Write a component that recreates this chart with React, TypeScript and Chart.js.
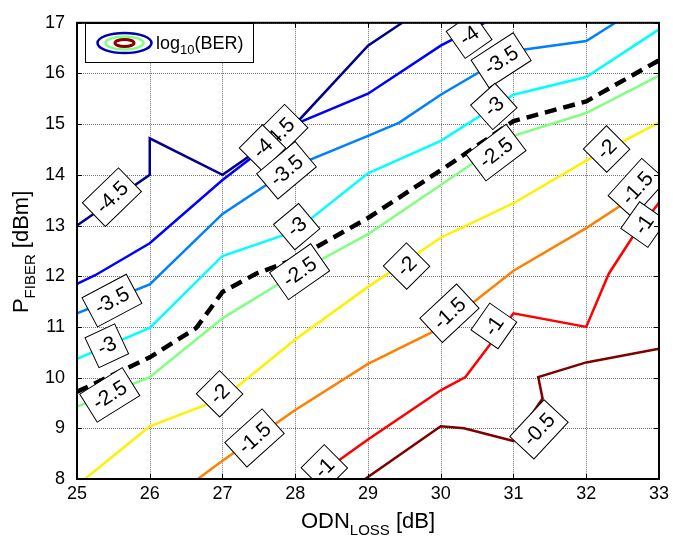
import React, { useEffect, useRef } from 'react';
import { Chart, registerables } from 'chart.js';

Chart.register(...registerables);

type P = [number, number];

// axis ticks
const X_TICKS = [25, 26, 27, 28, 29, 30, 31, 32, 33];
const Y_TICKS = [8, 9, 10, 11, 12, 13, 14, 15, 16, 17];

// contour lines of log10(BER)
const LEVEL_M45: P[] = [[25, 13.0], [26, 14.0], [26, 14.72], [27, 14.0], [28, 15.0], [29, 16.55], [29.47, 17.0]];
const LEVEL_M40: P[] = [[25, 11.85], [25.25, 12.02], [26, 12.65], [27, 13.9], [28, 15.0], [29, 15.6], [30, 16.55], [30.6, 17.0]];
const LEVEL_M35: P[] = [[25, 11.27], [26, 11.84], [27, 13.23], [28, 14.18], [29, 14.77], [29.43, 15.03], [30, 15.58], [31.03, 16.45], [32, 16.64], [32.4, 17.0]];
const LEVEL_M30: P[] = [[25, 10.37], [26, 10.98], [27, 12.4], [28, 12.89], [29, 14.03], [30, 14.67], [31, 15.58], [32, 15.93], [33, 16.87]];
const LEVEL_M25: P[] = [[25, 9.43], [26, 10.01], [27, 11.17], [28, 12.05], [29, 12.83], [30, 13.8], [31, 14.77], [32, 15.22], [33, 15.96]];
const THRESHOLD: P[] = [[25, 9.72], [26, 10.4], [26.64, 10.98], [27, 11.69], [27.46, 12.05], [28, 12.34], [29, 13.15], [30, 14.09], [31, 15.06], [32, 15.45], [33, 16.26]];
const LEVEL_M20: P[] = [[25.11, 8.0], [26, 9.04], [27, 9.59], [27.4, 10.05], [28, 10.75], [29, 11.79], [30, 12.76], [31, 13.44], [32, 14.28], [33, 15.03]];
const LEVEL_M15: P[] = [[26.66, 8.0], [27, 8.36], [28, 9.36], [29, 10.27], [30, 10.98], [31, 12.11], [32, 12.95], [32.49, 13.41], [33, 14.05]];
const LEVEL_M10: P[] = [[28.24, 8.0], [29, 8.78], [30, 9.75], [30.34, 10.01], [31, 11.27], [32, 11.0], [32.31, 12.05], [32.63, 12.76], [33, 13.45]];
const LEVEL_M05: P[] = [[28.96, 8.0], [30, 9.04], [30.32, 9.0], [31, 8.75], [31.4, 9.59], [31.34, 10.01], [32, 10.3], [33, 10.57]];

// inline labels: text, x, y, rotation (deg)
const LABEL_TEXT = ['-4.5', '-4.5', '-4', '-3.5', '-3', '-2.5', '-3.5', '-3', '-2.5', '-2', '-1.5', '-1', '-2', '-1.5', '-1', '-0.5', '-4', '-3.5', '-3', '-2.5', '-2', '-1.5', '-1'];
const LABEL_X = [25.48, 27.77, 27.55, 27.88, 28.02, 28.06, 25.48, 25.41, 25.45, 26.96, 27.44, 28.4, 29.53, 30.12, 30.73, 31.35, 30.39, 30.83, 30.73, 30.76, 32.28, 32.7, 32.79];
const LABEL_Y = [13.56, 14.81, 14.53, 14.09, 12.98, 12.09, 11.52, 10.63, 9.66, 9.68, 8.81, 8.22, 12.2, 11.27, 11.02, 8.98, 16.75, 16.26, 15.35, 14.44, 14.51, 13.74, 13.02];
const LABEL_ANGLE = [44, 45, 45, 40, 40, 35, 28, 25, 32, 45, 42, 45, 45, 43, 55, 47, 35, 33, 42, 37, 45, 48, 55];

const FONT = '"Liberation Sans", Arial, sans-serif';

function drawRuns(ctx: CanvasRenderingContext2D, runs: { t: string; sub?: boolean }[], x0: number, y0: number, size: number, subSize: number, subShift: number, center: boolean) {
  let total = 0;
  const widths = runs.map((r) => {
    ctx.font = `${r.sub ? subSize : size}px ${FONT}`;
    const w = ctx.measureText(r.t).width;
    total += w;
    return w;
  });
  let x = center ? x0 - total / 2 : x0;
  ctx.textAlign = 'left';
  ctx.textBaseline = 'alphabetic';
  ctx.fillStyle = '#000';
  runs.forEach((r, i) => {
    ctx.font = `${r.sub ? subSize : size}px ${FONT}`;
    ctx.fillText(r.t, x, y0 + (r.sub ? subShift : 0));
    x += widths[i];
  });
}

const decorPlugin = {
  id: 'decor',
  beforeDatasetsDraw(chart: any) {
    const { ctx, chartArea: a, scales } = chart;
    ctx.save();
    ctx.strokeStyle = 'rgba(0,0,0,0.55)';
    ctx.lineWidth = 1;
    ctx.setLineDash([1, 1]);
    X_TICKS.forEach((v) => {
      const px = Math.round(scales.x.getPixelForValue(v)) + 0.5;
      ctx.beginPath(); ctx.moveTo(px, a.top); ctx.lineTo(px, a.bottom); ctx.stroke();
    });
    Y_TICKS.forEach((v) => {
      const py = Math.round(scales.y.getPixelForValue(v)) + 0.5;
      ctx.beginPath(); ctx.moveTo(a.left, py); ctx.lineTo(a.right, py); ctx.stroke();
    });
    ctx.restore();
  },
  afterDatasetsDraw(chart: any) {
    const { ctx, chartArea: a, scales } = chart;
    ctx.save();
    ctx.beginPath();
    ctx.rect(a.left, a.top, a.right - a.left, a.bottom - a.top);
    ctx.clip();
    LABEL_TEXT.forEach((t, i) => {
      const cx = scales.x.getPixelForValue(LABEL_X[i]);
      const cy = scales.y.getPixelForValue(LABEL_Y[i]);
      ctx.save();
      ctx.translate(cx, cy);
      ctx.rotate((-LABEL_ANGLE[i] * Math.PI) / 180);
      ctx.font = `21px ${FONT}`;
      const w = ctx.measureText(t).width + 14;
      const h = 33;
      ctx.fillStyle = '#fff';
      ctx.fillRect(-w / 2, -h / 2, w, h);
      ctx.strokeStyle = '#000';
      ctx.lineWidth = 1;
      ctx.strokeRect(-w / 2, -h / 2, w, h);
      ctx.fillStyle = '#000';
      ctx.textAlign = 'center';
      ctx.textBaseline = 'middle';
      ctx.fillText(t, 0, 1);
      ctx.restore();
    });
    ctx.restore();
  },
  afterDraw(chart: any) {
    const { ctx, chartArea: a, scales } = chart;
    ctx.save();
    // inward tick marks
    ctx.strokeStyle = '#000';
    ctx.lineWidth = 1;
    X_TICKS.forEach((v) => {
      const px = Math.round(scales.x.getPixelForValue(v)) + 0.5;
      ctx.beginPath(); ctx.moveTo(px, a.bottom); ctx.lineTo(px, a.bottom - 5); ctx.stroke();
      ctx.beginPath(); ctx.moveTo(px, a.top); ctx.lineTo(px, a.top + 5); ctx.stroke();
    });
    Y_TICKS.forEach((v) => {
      const py = Math.round(scales.y.getPixelForValue(v)) + 0.5;
      ctx.beginPath(); ctx.moveTo(a.left, py); ctx.lineTo(a.left + 5, py); ctx.stroke();
      ctx.beginPath(); ctx.moveTo(a.right, py); ctx.lineTo(a.right - 5, py); ctx.stroke();
    });
    // box
    ctx.lineWidth = 2;
    ctx.strokeRect(a.left, a.top, a.right - a.left, a.bottom - a.top);

    // legend
    ctx.fillStyle = '#fff';
    ctx.fillRect(85.5, 23.5, 168, 39);
    ctx.lineWidth = 1;
    ctx.strokeStyle = '#000';
    ctx.strokeRect(85.5, 23.5, 168, 39);
    const rings: [number, number, string, number][] = [[27, 10, '#0000B0', 2.5], [19, 6.5, '#80FF80', 2.5], [9.5, 3.5, '#8B0000', 3]];
    rings.forEach(([rx, ry, c, lw]) => {
      ctx.beginPath();
      ctx.ellipse(124.5, 43, rx, ry, 0, 0, Math.PI * 2);
      ctx.strokeStyle = c;
      ctx.lineWidth = lw;
      ctx.stroke();
    });
    drawRuns(ctx, [{ t: 'log' }, { t: '10', sub: true }, { t: '(BER)' }], 156, 49, 18, 13, 5, false);

    // axis titles
    const cxMid = (a.left + a.right) / 2;
    drawRuns(ctx, [{ t: 'ODN' }, { t: 'LOSS', sub: true }, { t: ' [dB]' }], cxMid, 528, 22, 15, 7, true);
    ctx.save();
    ctx.translate(28, (a.top + a.bottom) / 2 + 1);
    ctx.rotate(-Math.PI / 2);
    drawRuns(ctx, [{ t: 'P' }, { t: 'FIBER', sub: true }, { t: ' [dBm]' }], 0, 0, 22, 15, 7, true);
    ctx.restore();
    ctx.restore();
  },
};

function toXY(pts: P[]) {
  return pts.map(([x, y]) => ({ x, y }));
}

export default function App() {
  const ref = useRef<HTMLCanvasElement | null>(null);
  useEffect(() => {
    if (!ref.current) return;
    const line = (pts: P[], color: string, width = 2.5, dash: number[] = []) => ({
      data: toXY(pts),
      borderColor: color,
      backgroundColor: color,
      borderWidth: width,
      borderDash: dash,
      pointRadius: 0,
      tension: 0,
      fill: false,
      showLine: true,
    });
    const chart = new Chart(ref.current, {
      type: 'line',
      data: {
        datasets: [
          line(THRESHOLD, '#000000', 4.5, [12, 7]),
          line(LEVEL_M45, '#00008F'),
          line(LEVEL_M40, '#0000FF'),
          line(LEVEL_M35, '#0080FF'),
          line(LEVEL_M30, '#00FFFF'),
          line(LEVEL_M25, '#80FF80'),
          line(LEVEL_M20, '#FFF000'),
          line(LEVEL_M15, '#FF8000'),
          line(LEVEL_M10, '#FF0000'),
          line(LEVEL_M05, '#800000'),
        ] as any,
      },
      options: {
        animation: false,
        responsive: true,
        maintainAspectRatio: false,
        layout: { padding: { top: 15, right: 13, left: 0, bottom: 0 } },
        plugins: { legend: { display: false }, tooltip: { enabled: false } },
        scales: {
          x: {
            type: 'linear',
            min: 25,
            max: 33,
            ticks: { stepSize: 1, color: '#000', font: { family: FONT, size: 18 }, padding: 4 },
            grid: { display: false, drawTicks: false },
            border: { display: false },
            afterFit: (s: any) => { s.height = 64; },
          },
          y: {
            type: 'linear',
            min: 8,
            max: 17,
            ticks: { stepSize: 1, color: '#000', font: { family: FONT, size: 18 }, padding: 12 },
            grid: { display: false, drawTicks: false },
            border: { display: false },
            afterFit: (s: any) => { s.width = 77; },
          },
        },
      } as any,
      plugins: [decorPlugin],
    });
    return () => chart.destroy();
  }, []);
  return (
    <div style={{ position: 'fixed', left: 0, top: 0, width: 673, height: 543, background: '#fff' }}>
      <canvas ref={ref} />
    </div>
  );
}
